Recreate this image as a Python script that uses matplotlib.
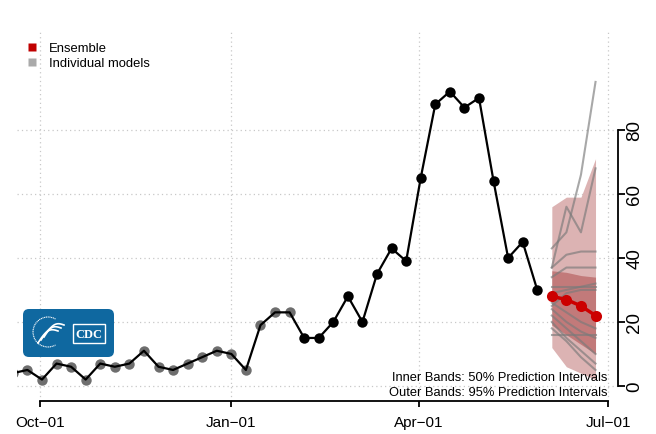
import matplotlib
matplotlib.use("Agg")
import matplotlib.pyplot as plt
import matplotlib.dates as mdates
import numpy as np
from matplotlib.lines import Line2D
from matplotlib.patches import FancyBboxPatch, Rectangle, Arc

plt.rcParams['font.family'] = ['Liberation Sans', 'DejaVu Sans']

### DATA ###

# weekly observed counts (first point sits just left of the plot region)
obs_dates = np.arange(np.datetime64('2022-09-18'), np.datetime64('2023-06-04'), np.timedelta64(7, 'D'))
obs_values = [4, 5, 2, 7, 6, 2, 7, 6, 7, 11, 6, 5, 7, 9, 11, 10, 5, 19, 23, 23,
              15, 15, 20, 28, 20, 35, 43, 39, 65, 88, 92, 87, 90, 64, 40, 45, 30]
n_grey = 20  # points up to late Jan drawn in grey

fc_dates = np.array(['2023-06-04', '2023-06-11', '2023-06-18', '2023-06-25'], dtype='datetime64[D]')
ensemble = [28, 27, 25, 22]
lower95 = [12, 6, 4, 2]
upper95 = [56, 59, 59, 71]
lower50 = [19, 16, 13, 10]
upper50 = [36, 35.5, 34.5, 34]

models = [
    [43, 48, 66, 95],
    [37, 56, 48, 68],
    [37, 41, 42, 42],
    [34, 37, 37, 37],
    [31, 31, 31, 31],
    [29, 30, 31, 32],
    [25, 29, 30, 30],
    [26, 23, 20, 18],
    [24, 20, 17, 15],
    [22, 18, 14, 10],
    [20, 15, 11, 7],
    [18, 14, 9, 5],
    [16, 16, 16, 16],
]

x_ticks = np.array(['2022-10-01', '2023-01-01', '2023-04-01', '2023-07-01'], dtype='datetime64[D]')
x_labels = ['Oct\u221201', 'Jan\u221201', 'Apr\u221201', 'Jul\u221201']
y_ticks = [0, 20, 40, 60, 80]

### PLOT ###

W, H = 656, 435
fig = plt.figure(figsize=(W / 100, H / 100), dpi=100)
ax = fig.add_axes([17 / W, 1 - 402 / H, (618 - 17) / W, (402 - 33) / H])

obs_x = mdates.date2num(obs_dates)
fc_x = mdates.date2num(fc_dates)
tick_x = mdates.date2num(x_ticks)

ax.set_xlim(tick_x[0] - 11, tick_x[-1] + 4.8)
ax.set_ylim(-4.7, 110.6)

grid_kw = dict(color='#c8c8c8', lw=0.9, ls=(0, (1, 2.5)), zorder=0)
for t in tick_x:
    ax.axvline(t, **grid_kw)
for t in y_ticks:
    ax.axhline(t, **grid_kw)

# prediction bands
ax.fill_between(fc_x, lower95, upper95, color='#dcb3b3', lw=0, zorder=1)
ax.fill_between(fc_x, lower50, upper50, color='#c27a7a', lw=0, zorder=2)

for m in models:
    ax.plot(fc_x, m, color='#7a7a7a', alpha=0.65, lw=1.5, zorder=3)

# observed
ax.plot(obs_x[:n_grey], obs_values[:n_grey], 'o', color='#6e6e6e', ms=7.5, mec='none', zorder=4)
ax.plot(obs_x, obs_values, color='black', lw=1.6, zorder=5)
ax.plot(obs_x[n_grey:], obs_values[n_grey:], 'o', color='black', ms=7.5, mec='none', zorder=6)

ax.plot(fc_x, ensemble, '-o', color='#cc0000', lw=2.5, ms=8, mec='none', zorder=7)

# axes in R style
for side in ['left', 'top']:
    ax.spines[side].set_visible(False)
ax.spines['bottom'].set_bounds(tick_x[0], tick_x[-1])
ax.spines['right'].set_bounds(0, 80)
ax.spines['bottom'].set_linewidth(1.3)
ax.spines['right'].set_linewidth(1.3)
ax.set_xticks(tick_x)
ax.set_xticklabels(x_labels, fontsize=11)
ax.yaxis.tick_right()
ax.set_yticks(y_ticks)
ax.set_yticklabels([str(v) for v in y_ticks], fontsize=13.5, rotation=90, va='center')
ax.tick_params(axis='x', direction='out', length=4, width=1.3, pad=6)
ax.tick_params(axis='y', direction='out', length=5, width=1.3, pad=1)

handles = [Line2D([], [], ls='none', marker='s', ms=6, color='#c00000', mec='none'),
           Line2D([], [], ls='none', marker='s', ms=6, color='#aaaaaa', mec='none')]
ax.legend(handles, ['Ensemble', 'Individual models'], loc='upper left',
          bbox_to_anchor=(0.017, 0.972), frameon=False, fontsize=9.4,
          handlelength=0.8, handletextpad=0.85, labelspacing=0.2, borderaxespad=0,
          borderpad=0)

ax.text(0.983, 0.065, 'Inner Bands: 50% Prediction Intervals', transform=ax.transAxes,
        ha='right', va='center', fontsize=9.3, zorder=8)
ax.text(0.983, 0.024, 'Outer Bands: 95% Prediction Intervals', transform=ax.transAxes,
        ha='right', va='center', fontsize=9.3, zorder=8)

# CDC logo
lax = fig.add_axes([23 / W, 1 - 358 / H, 91 / W, 48 / H])
lax.set_xlim(0, 91)
lax.set_ylim(0, 48)
lax.axis('off')
lax.add_patch(FancyBboxPatch((0, 0), 91, 48, boxstyle='round,pad=0,rounding_size=6',
                             fc='#0f68a0', ec='none'))
lax.add_patch(Arc((25, 25), 30, 30, theta1=60, theta2=300, color='white', lw=0.8, ls=(0, (1, 0.6))))
for dx, dy in [(0, 0), (3, 3), (6, 6)]:
    cx = np.linspace(15, 35, 20) + dx
    lax.plot(cx, 14 + dy + 10 * np.sin((cx - 15 - dx) / 20 * np.pi) * 0.6
             + (cx - 15 - dx) * 0.6, color='white', lw=1.2)
lax.add_patch(Rectangle((50, 14), 32, 19, fc='none', ec='white', lw=1.0))
lax.text(66, 23.5, 'CDC', color='white', ha='center', va='center', fontsize=9,
         fontweight='bold', family='Liberation Serif')

fig.savefig('out.png', dpi=100)
